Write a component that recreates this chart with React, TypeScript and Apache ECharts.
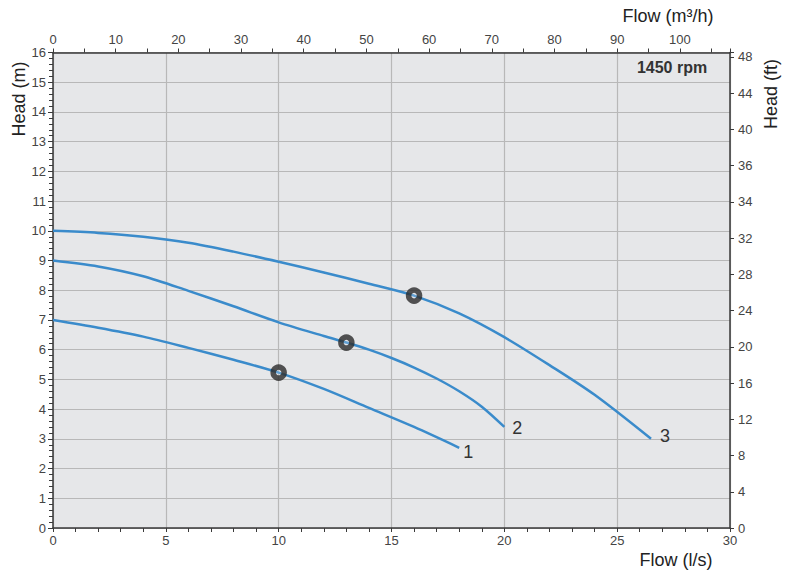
import React, { useEffect, useRef } from "react";
import * as echarts from "echarts";

const curve1: [number, number][] = [[0, 7], [2, 6.74], [4, 6.44], [6, 6.06], [8, 5.66], [10, 5.23], [12, 4.68], [14, 4.04], [16, 3.4], [18, 2.7]];
const curve2: [number, number][] = [[0, 9], [2, 8.8], [4, 8.47], [6, 7.98], [8, 7.46], [10, 6.92], [12, 6.46], [13, 6.24], [14, 6.0], [15, 5.72], [16, 5.4], [17, 5.03], [18, 4.6], [19, 4.08], [20, 3.4]];
const curve3: [number, number][] = [[0, 10], [2, 9.93], [4, 9.8], [6, 9.6], [8, 9.3], [10, 8.96], [12, 8.6], [14, 8.22], [16, 7.82], [18, 7.22], [20, 6.42], [22, 5.48], [24, 4.48], [26.5, 3.0]];
const curveNames = ["1", "2", "3"];
const bepPoints: [number, number][] = [[10, 5.23], [13, 6.24], [16, 7.82]];
const ftLabels = ["0", "4", "8", "12", "16", "20", "24", "28", "32", "34", "36", "40", "44", "48"];

const FONT = "'Liberation Sans', Arial, sans-serif";
const AXIS = "#3a3a3a";
const LBL = "#444";
const GRIDC = "#b8b8b8";
const BLUE = "#3a8bcb";

export default function App() {
  const ref = useRef<HTMLDivElement>(null);
  useEffect(() => {
    if (!ref.current) return;
    const chart = echarts.init(ref.current, null, { renderer: "svg" });
    const mkLine = (data: [number, number][], name: string, dist: number, dy: number) => ({
      type: "line",
      xAxisIndex: 0,
      yAxisIndex: 0,
      smooth: 0.3,
      symbol: "none",
      lineStyle: { color: BLUE, width: 2.5 },
      endLabel: {
        show: true,
        formatter: name,
        distance: dist,
        offset: [0, dy],
        fontSize: 18,
        color: "#333",
        fontFamily: FONT,
      },
      data,
      z: 2,
    });
    const tickStyle = { lineStyle: { color: AXIS, width: 1 } };
    chart.setOption({
      animation: false,
      textStyle: { fontFamily: FONT },
      grid: {
        left: 53,
        right: 66,
        top: 52.5,
        bottom: 46,
        show: true,
        backgroundColor: "#e6e7e9",
        borderWidth: 0,
      },
      xAxis: [
        {
          type: "value",
          position: "bottom",
          min: 0,
          max: 30,
          interval: 5,
          axisLine: { show: true, lineStyle: { color: AXIS, width: 1.5 } },
          axisTick: { show: true, length: 4, ...tickStyle },
          minorTick: { show: true, splitNumber: 5, length: 4, lineStyle: { color: AXIS } },
          splitLine: { show: true, lineStyle: { color: GRIDC, width: 1.2 } },
          axisLabel: { fontSize: 13, color: LBL, margin: 6, fontFamily: FONT },
        },
        {
          type: "value",
          position: "top",
          min: 0,
          max: 108,
          interval: 10,
          axisLine: { show: true, onZero: false, lineStyle: { color: AXIS, width: 1.5 } },
          axisTick: { show: true, length: 4, ...tickStyle },
          minorTick: { show: true, splitNumber: 2, length: 4, lineStyle: { color: AXIS } },
          splitLine: { show: false },
          axisLabel: {
            fontSize: 13,
            color: LBL,
            margin: 7,
            fontFamily: FONT,
            formatter: (v: number) => (Math.abs(v % 10) < 1e-9 ? String(v) : ""),
          },
        },
      ],
      yAxis: [
        {
          type: "value",
          position: "left",
          min: 0,
          max: 16,
          interval: 1,
          axisLine: { show: true, onZero: false, lineStyle: { color: AXIS, width: 1.5 } },
          axisTick: { show: true, length: 5, ...tickStyle },
          minorTick: { show: true, splitNumber: 5, length: 4, lineStyle: { color: AXIS } },
          splitLine: { show: true, lineStyle: { color: GRIDC, width: 1.2 } },
          axisLabel: { fontSize: 13, color: LBL, margin: 7, fontFamily: FONT },
        },
        {
          type: "value",
          position: "right",
          min: 0,
          max: 13.12,
          interval: 1,
          axisLine: { show: true, onZero: false, lineStyle: { color: AXIS, width: 1.5 } },
          axisTick: { show: true, length: 4, ...tickStyle },
          splitLine: { show: false },
          axisLabel: {
            fontSize: 13,
            color: LBL,
            margin: 8,
            fontFamily: FONT,
            formatter: (v: number) => {
              const i = Math.round(v);
              return Math.abs(v - i) < 1e-6 && ftLabels[i] !== undefined ? ftLabels[i] : "";
            },
          },
        },
      ],
      series: [
        mkLine(curve1, curveNames[0], 4, 4),
        mkLine(curve2, curveNames[1], 8, 1),
        mkLine(curve3, curveNames[2], 9, -3),
        {
          type: "scatter",
          xAxisIndex: 0,
          yAxisIndex: 0,
          symbol: "circle",
          symbolSize: 11,
          itemStyle: { color: "rgba(230,231,233,0.3)", borderColor: "#2a2a2a", borderWidth: 5.5 },
          data: bepPoints,
          z: 5,
        },
      ],
      graphic: [
        {
          type: "text",
          x: 668,
          y: 16,
          style: { text: "Flow (m³/h)", fontSize: 18, fill: "#222", fontFamily: FONT, align: "center", verticalAlign: "middle" },
        },
        {
          type: "text",
          x: 676,
          y: 560,
          style: { text: "Flow (l/s)", fontSize: 18, fill: "#222", fontFamily: FONT, align: "center", verticalAlign: "middle" },
        },
        {
          type: "text",
          x: 19,
          y: 99,
          rotation: Math.PI / 2,
          style: { text: "Head (m)", fontSize: 18, fill: "#222", fontFamily: FONT, align: "center", verticalAlign: "middle" },
        },
        {
          type: "text",
          x: 771,
          y: 94,
          rotation: Math.PI / 2,
          style: { text: "Head (ft)", fontSize: 18, fill: "#222", fontFamily: FONT, align: "center", verticalAlign: "middle" },
        },
        {
          type: "text",
          x: 672,
          y: 67,
          style: { text: "1450 rpm", fontSize: 16, fontWeight: "bold", fill: "#333", fontFamily: FONT, align: "center", verticalAlign: "middle" },
        },
      ],
    });
    return () => chart.dispose();
  }, []);
  return (
    <div
      ref={ref}
      style={{ position: "absolute", left: 0, top: 0, width: 796, height: 574, background: "#fff" }}
    />
  );
}
